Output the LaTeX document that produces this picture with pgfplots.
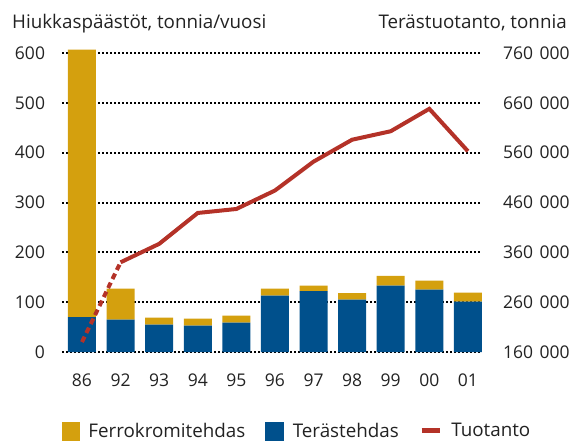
\documentclass[border=0pt]{standalone}
\usepackage{pgfplots}
\pgfplotsset{compat=1.18}
\usepackage{fontspec}
\setmainfont{Open Sans}
\definecolor{gold}{HTML}{D4A00E}
\definecolor{steelblue}{HTML}{00508C}
\definecolor{prodred}{HTML}{B43228}
\definecolor{txt}{HTML}{222222}

\pgfplotstableread{
x year steel ferro
0 86 70 537
1 92 65 62
2 93 55 14
3 94 53 14
4 95 59 14
5 96 113 14
6 97 122 11
7 98 105 13
8 99 133 20
9 00 125 18
10 01 101 18
}\emis

\newcommand{\bigtxt}{\fontsize{18.8pt}{22pt}\selectfont}
\begin{document}
\begin{tikzpicture}[font=\fontsize{17.5pt}{21pt}\selectfont, text=txt]
\pgfplotsset{
  common/.style={
    at={(62pt,90pt)}, anchor=south west, scale only axis,
    width=419pt, height=299pt,
    xmin=-0.518, xmax=10.34, clip=false,
    axis line style={draw=none}, major tick length=0pt,
    scaled y ticks=false,
    /pgf/number format/assume math mode=true,
    every tick label/.append style={inner sep=0pt, outer sep=0pt, text=txt},
  }
}
\begin{axis}[common,
  ymin=0, ymax=600,
  ytick={0,100,...,600},
  ymajorgrids,
  grid style={black, line width=2pt, dash pattern=on 1.9pt off 2.1pt},
  xtick={0,...,10},
  xticklabels={86,92,93,94,95,96,97,98,99,00,01},
  xticklabel style={anchor=north, yshift=-22pt},
  yticklabel style={anchor=east, xshift=-17pt},
  ybar stacked, bar width=28pt,
]
\addplot[fill=steelblue, draw=none] table[x=x,y=steel]{\emis};
\addplot[fill=gold, draw=none] table[x=x,y=ferro]{\emis};
\end{axis}
\begin{axis}[common,
  ymin=160000, ymax=760000,
  axis y line*=right, hide x axis,
  ytick={160000,260000,360000,460000,560000,660000,760000},
  yticklabels={160\hspace{0.38em}000,260\hspace{0.38em}000,360\hspace{0.38em}000,460\hspace{0.38em}000,560\hspace{0.38em}000,660\hspace{0.38em}000,760\hspace{0.38em}000},
  yticklabel style={anchor=west, xshift=22pt},
  legend columns=3,
  legend style={draw=none, fill=none, inner sep=0pt, outer sep=0pt,
    at={(0,-0.2633)}, anchor=west, font=\bigtxt,
    nodes={inner sep=0pt, text=txt},
    /tikz/every odd column/.append style={column sep=9pt},
    /tikz/every even column/.append style={column sep=20pt}},
]
\addlegendimage{legend image code/.code={\fill[gold] (0pt,-9pt) rectangle (17pt,9pt);}}
\addlegendentry{Ferrokromitehdas}
\addlegendimage{legend image code/.code={\fill[steelblue] (0pt,-9pt) rectangle (18pt,9pt);}}
\addlegendentry{Terästehdas}
\addlegendimage{legend image code/.code={\draw[prodred, line width=5.5pt] (0pt,0pt) -- (18pt,0pt);}}
\addlegendentry{Tuotanto}
\addplot[prodred, line width=4pt, dash pattern=on 6pt off 4pt, forget plot] coordinates {
(0,180000) (1,340000)};
\addplot[prodred, line width=4pt, line join=miter, forget plot] coordinates {
(1,340000) (2,377000) (3,439000) (4,447000) (5,484000) (6,542000) (7,586000) (8,603000) (9,648000) (10,563000)};
\end{axis}
\node[anchor=base west, inner sep=0pt, font=\bigtxt] at (12pt,413pt) {Hiukkaspäästöt, tonnia/vuosi};
\node[anchor=base east, inner sep=0pt, font=\bigtxt] at (567pt,413pt) {Terästuotanto, tonnia};
\pgfresetboundingbox
\path (0,0) rectangle (575pt,442pt);
\end{tikzpicture}
\end{document}
